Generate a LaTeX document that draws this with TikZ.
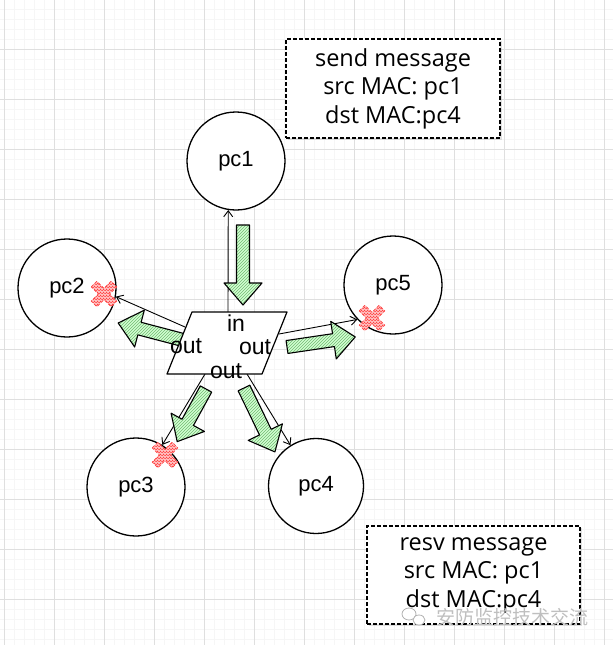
\documentclass[tikz,border=0pt]{standalone}
\usepackage{fontspec}
\setmainfont{Liberation Sans}
\newfontfamily\boxfont{Open Sans}
\newfontfamily\cjk{Noto Sans CJK SC}
\usetikzlibrary{arrows.meta,patterns,shadows}
\begin{document}
\begin{tikzpicture}[x=1pt,y=1pt,
  pcnode/.style={circle, draw=black, line width=1.3pt, fill=white, minimum size=98pt, inner sep=0pt, font=\fontsize{22}{24}\selectfont},
  link/.style={draw=black, line width=0.9pt, -{Straight Barb[length=6pt,width=9pt]}},
  fatarr/.style={draw=black, line width=1.1pt, line join=round, preaction={fill=green!18}, pattern=north east lines, pattern color=green!50!black!55},
  xmk/.style={draw=red!75, line width=0.7pt, densely dashed, preaction={fill=red!20}, pattern=crosshatch, pattern color=red!75},
  msgbox/.style={draw=black, dash pattern=on 4pt off 2pt, line width=1.2pt, fill=white, align=center, inner sep=0pt,
     font=\boxfont\fontsize{23.5}{28.5}\selectfont, drop shadow={shadow xshift=2pt, shadow yshift=-2pt, fill=gray!60, opacity=0.4}},
  portlbl/.style={font=\fontsize{23}{24}\selectfont, inner sep=0pt},
  pics/fat/.style={code={\draw[fatarr] (0,-6.5) -- (#1-22,-6.5) -- (#1-22,-19) -- (#1,0) -- (#1-22,19) -- (#1-22,6.5) -- (0,6.5) -- cycle;}},
  pics/xcross/.style={code={\draw[xmk, rotate=45] (-4,14) -- (4,14) -- (4,4) -- (14,4) -- (14,-4) -- (4,-4) -- (4,-14) -- (-4,-14) -- (-4,-4) -- (-14,-4) -- (-14,4) -- (-4,4) -- cycle;}}
]
\useasboundingbox (0,0) rectangle (613,-645);
\fill[white] (0,0) rectangle (613,-645);
% grid
\foreach \x in {4,14,...,604} \draw[gray!7, line width=0.5pt] (\x,0) -- (\x,-645);
\foreach \y in {-9,-19,...,-639} \draw[gray!7, line width=0.5pt] (0,\y) -- (613,\y);
\foreach \x in {4,54,...,604} \draw[gray!25, line width=0.6pt] (\x,0) -- (\x,-645);
\foreach \y in {-49,-99,...,-599} \draw[gray!25, line width=0.6pt] (0,\y) -- (613,\y);

% computers
\node[pcnode] (pc1) at (236,-161) {pc1};
\node[pcnode] (pc2) at (67,-288) {pc2};
\node[pcnode] (pc5) at (393,-285) {pc5};
\node[pcnode] (pc3) at (136,-487) {pc3};
\node[pcnode, minimum size=95pt] (pc4) at (316,-486) {pc4};

% link start points on the switch
\coordinate (sTop) at (228,-312);
\coordinate (sLeft) at (185,-327);
\coordinate (sRight) at (279,-334);
\coordinate (sBL) at (205,-374);
\coordinate (sBR) at (247,-374);

% thin connectors
\draw[link] (sTop) -- (pc1.-99);
\draw[link] (sLeft) -- (pc2.-10);
\draw[link] (sRight) -- (pc5.-136);
\draw[link] (sBL) -- (pc3.58);
\draw[link] (sBR) -- (pc4.122);

% fat green arrows
\path (243,-225) pic[rotate=-90] {fat=80};
\path (183,-340) pic[rotate=165.3] {fat=67};
\path (287,-347) pic[rotate=8.4] {fat=69};
\path (206,-389) pic[rotate=-118.7] {fat=60};
\path (244,-388) pic[rotate=-64.2] {fat=71};

% switch
\coordinate (A) at (192,-312);
\coordinate (B) at (287,-312);
\coordinate (C) at (262,-374);
\coordinate (D) at (167,-374);
\draw[fill=white, line width=1.2pt, line join=round] (A) -- (B) -- (C) -- (D) -- cycle;
\node[portlbl] (lin) at (236,-323) {in};
\node[portlbl] (lleft) at (186,-346) {out};
\node[portlbl] (lright) at (255,-347) {out};
\node[portlbl] (lbot) at (226,-371) {out};

% blocked marks
\path (104,-294) pic {xcross};
\path (372,-318) pic {xcross};
\path (165,-455) pic {xcross};

% message boxes
\node[msgbox, minimum width=214pt, minimum height=99pt] (send) at (393,-88.5) {send message\\src MAC: pc1\\dst MAC:pc4};
\node[msgbox, minimum width=213pt, minimum height=98pt] (resv) at (473.5,-575) {resv message\\src MAC: pc1\\dst MAC:pc4};

% watermark
\draw[gray!60, line width=0.8pt] (409,-614) ellipse (7 and 6);
\draw[gray!60, line width=0.8pt, fill=white] (419,-620) ellipse (6 and 5);
\node[font=\cjk\fontsize{19}{20}\selectfont, text=gray!50, inner sep=0pt] (wm) at (512,-617) {安防监控技术交流};
\end{tikzpicture}
\end{document}
